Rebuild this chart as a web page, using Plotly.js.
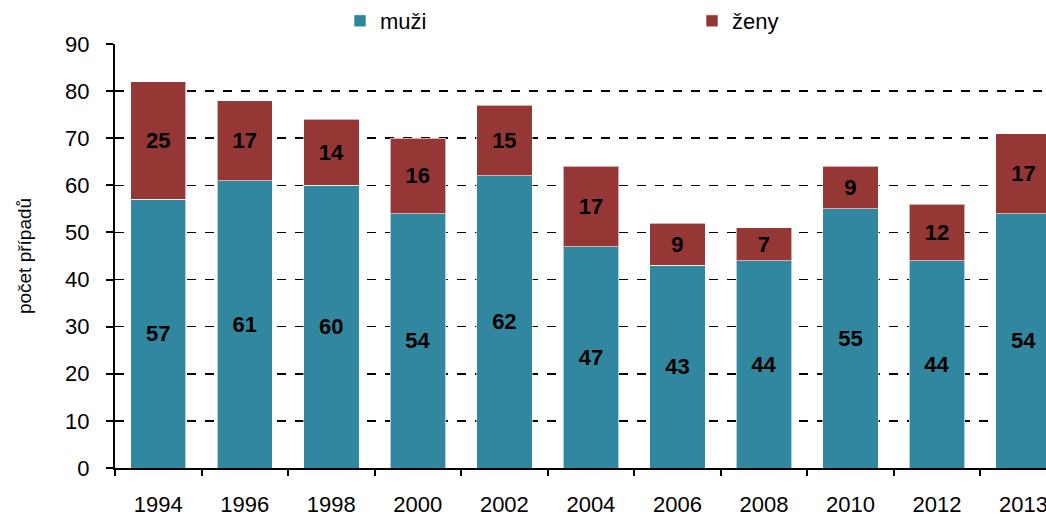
<!DOCTYPE html>
<html>
<head>
<meta charset="utf-8">
<script src="https://cdn.plot.ly/plotly-3.0.1.min.js"></script>
<style>html,body{margin:0;padding:0;background:#fff;}#chart{width:1046px;height:518px;}</style>
</head>
<body>
<div id="chart"></div>
<script>
const years = ['1994','1996','1998','2000','2002','2004','2006','2008','2010','2012','2013'];
const muzi = [57, 61, 60, 54, 62, 47, 43, 44, 55, 44, 54];
const zeny = [25, 17, 14, 16, 15, 17, 9, 7, 9, 12, 17];

const labelFont = {family: 'Liberation Sans, Arial, sans-serif', size: 22, color: '#000', weight: 'bold'};
const traces = [
  {type: 'bar', name: 'muži', x: years, y: muzi, text: muzi.map(String), legend: 'legend',
   textposition: 'inside', insidetextanchor: 'middle', textangle: 0,
   textfont: labelFont, constraintext: 'none',
   marker: {color: '#31879F', line: {color: 'rgba(255,255,255,0.6)', width: 1}}},
  {type: 'bar', name: 'ženy', x: years, y: zeny, text: zeny.map(String), legend: 'legend2',
   textposition: 'inside', insidetextanchor: 'middle', textangle: 0,
   textfont: labelFont, constraintext: 'none',
   marker: {color: '#943735', line: {color: 'rgba(255,255,255,0.6)', width: 1}}}
];

const legBase = {orientation: 'h', xref: 'paper', yref: 'container', y: 1.0, yanchor: 'top',
  xanchor: 'left', font: {size: 22}, itemwidth: 30, bgcolor: 'rgba(0,0,0,0)'};
const layout = {
  width: 1046, height: 518,
  barmode: 'stack', bargap: 0.36,
  margin: {l: 115, r: 0, t: 44, b: 50, autoexpand: false},
  paper_bgcolor: '#fff', plot_bgcolor: '#fff',
  font: {family: 'Liberation Sans, Arial, sans-serif', size: 22, color: '#000'},
  showlegend: true,
  legend: Object.assign({}, legBase, {x: (340 - 115) / 931}),
  legend2: Object.assign({}, legBase, {x: (692 - 115) / 931}),
  xaxis: {type: 'category', range: [-0.5, 10.26], showline: true, linecolor: '#000', linewidth: 2,
          ticks: 'outside', tickson: 'boundaries', ticklen: 6, tickwidth: 2, tickcolor: '#000',
          ticklabelstandoff: 16, showgrid: false, tickfont: {size: 22}},
  yaxis: {range: [0, 90], dtick: 10, showline: true, linecolor: '#000', linewidth: 2,
          ticks: 'outside', ticklen: 7, tickwidth: 2, tickcolor: '#000',
          ticklabelstandoff: 12, showgrid: true, gridcolor: '#000', gridwidth: 1.6, griddash: 'dash',
          zeroline: false, tickfont: {size: 22},
          title: {text: 'počet případů', font: {size: 19}, standoff: 28}}
};
Plotly.newPlot('chart', traces, layout, {displayModeBar: false, staticPlot: true});
</script>
</body>
</html>
